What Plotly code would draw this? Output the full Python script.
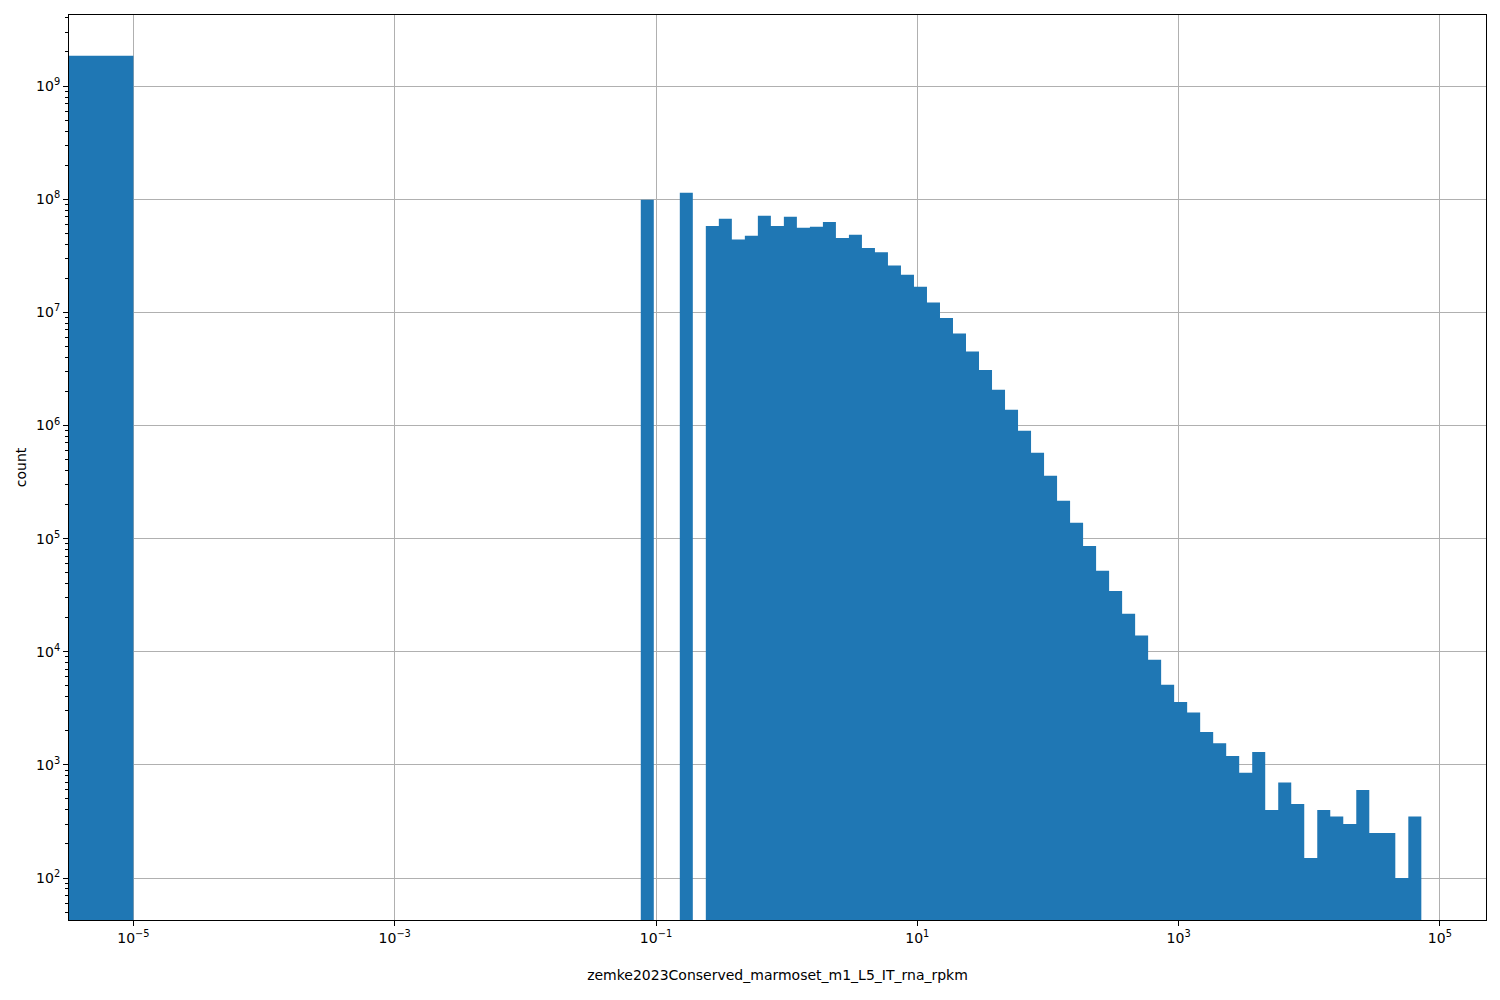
import numpy as np
import plotly.graph_objects as go

# ---------------- data ----------------
x_label = "zemke2023Conserved_marmoset_m1_L5_IT_rna_rpkm"
y_label = "count"

# first bin: [0, 1e-5]
zero_bin_edges = [0.0, 1e-5]
zero_bin_count = 1.85e9

# remaining bins: log-spaced edges from 1e-5 to the maximum value
log_edge_min = -5.0
log_edge_max = 4.858
n_log_bins = 99

log_bin_counts = [
    0, 0, 0, 0, 0, 0, 0, 0, 0, 0,
    0, 0, 0, 0, 0, 0, 0, 0, 0, 0,
    0, 0, 0, 0, 0, 0, 0, 0, 0, 0,
    0, 0, 0, 0, 0, 0, 0, 0, 0, 9.9e7,
    0, 0, 1.14e8, 0, 5.8e7, 6.7e7, 4.4e7, 4.75e7, 7.15e7, 5.8e7,
    7.0e7, 5.6e7, 5.7e7, 6.3e7, 4.55e7, 4.85e7, 3.7e7, 3.4e7, 2.6e7, 2.15e7,
    1.68e7, 1.22e7, 8.9e6, 6.5e6, 4.5e6, 3.1e6, 2.07e6, 1.38e6, 9.0e5, 5.75e5,
    3.6e5, 2.16e5, 1.38e5, 8.6e4, 5.2e4, 3.45e4, 2.17e4, 1.39e4, 8.5e3, 5.1e3,
    3.6e3, 2.9e3, 1950, 1550, 1200, 850, 1300, 400, 700, 450,
    150, 400, 350, 300, 600, 250, 250, 100, 350,
]

x_tick_exponents = [-5, -3, -1, 1, 3, 5]
y_tick_exponents = [2, 3, 4, 5, 6, 7, 8, 9]

# ---------------- layout constants ----------------
x_range_log = [-5.493, 5.353]
y_range_log = [1.629, 9.628]
bar_color = "#1f77b4"
grid_color = "#b0b0b0"
font_family = "DejaVu Sans"

# ---------------- build the histogram outline ----------------
log_edges = np.logspace(log_edge_min, log_edge_max, n_log_bins + 1)
all_edges = [zero_bin_edges[0]] + list(log_edges)
all_counts = [zero_bin_count] + list(log_bin_counts)

left_clip = 10 ** (x_range_log[0] - 0.5)
base = 10 ** (y_range_log[0] - 0.5)

xs, ys = [], []
run = []
for i, c in enumerate(all_counts + [0]):
    if i < len(all_counts) and c > 0:
        run.append(i)
    else:
        if run:
            x0 = all_edges[run[0]]
            x0 = x0 if x0 > 0 else left_clip
            px = [x0]
            py = [base]
            for j in run:
                l = all_edges[j] if all_edges[j] > 0 else left_clip
                r = all_edges[j + 1]
                px += [l, r]
                py += [all_counts[j], all_counts[j]]
            px += [all_edges[run[-1] + 1], x0]
            py += [base, base]
            xs += px + [None]
            ys += py + [None]
            run = []

fig = go.Figure()
fig.add_trace(go.Scatter(
    x=xs, y=ys, mode="lines", fill="toself",
    fillcolor=bar_color, line=dict(width=0, color=bar_color),
    hoverinfo="skip", showlegend=False,
))


def sup(e):
    s = str(e).replace("-", "\u2212")
    return f"10<sup>{s}</sup>"


y_minor = [m * 10.0 ** d for d in range(1, 10) for m in range(2, 10)]

fig.update_xaxes(
    type="log", range=x_range_log,
    tickmode="array",
    tickvals=[10.0 ** e for e in x_tick_exponents],
    ticktext=[sup(e) for e in x_tick_exponents],
    ticks="outside", ticklen=5, tickwidth=1.1, tickcolor="black",
    showline=True, linecolor="black", linewidth=1.1, mirror=True,
    showgrid=True, gridcolor=grid_color, gridwidth=1,
    layer="above traces",
    tickfont=dict(family=font_family, size=14, color="black"),
    title=dict(text=x_label, font=dict(family=font_family, size=14, color="black"), standoff=25),
    zeroline=False,
)
fig.update_yaxes(
    type="log", range=y_range_log,
    tickmode="array",
    tickvals=[10.0 ** e for e in y_tick_exponents],
    ticktext=[sup(e) for e in y_tick_exponents],
    ticks="outside", ticklen=5, tickwidth=1.1, tickcolor="black",
    minor=dict(tickmode="array", tickvals=y_minor, ticks="outside", ticklen=3,
               tickwidth=0.8, tickcolor="black", showgrid=False),
    showline=True, linecolor="black", linewidth=1.1, mirror=True,
    showgrid=True, gridcolor=grid_color, gridwidth=1,
    layer="above traces",
    tickfont=dict(family=font_family, size=14, color="black"),
    title=dict(text=y_label, font=dict(family=font_family, size=14, color="black"), standoff=6),
    zeroline=False,
)

fig.update_layout(
    width=1500, height=1000,
    margin=dict(l=61, r=22, t=7, b=88, autoexpand=False),
    paper_bgcolor="white", plot_bgcolor="white",
    font=dict(family=font_family, size=14, color="black"),
)

fig.write_html("out.html")
